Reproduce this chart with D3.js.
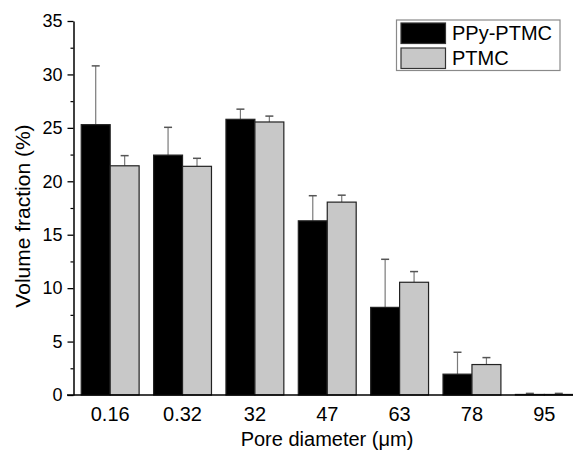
<!DOCTYPE html>
<html>
<head>
<meta charset="utf-8">
<script src="https://cdn.jsdelivr.net/npm/d3@7"></script>
<style>
  html, body { margin: 0; padding: 0; background: #fff; }
  svg { display: block; font-family: "Liberation Sans", Arial, Helvetica, sans-serif; }
</style>
</head>
<body>
<svg id="chart" width="573" height="451"></svg>
<script>
// Pore size distribution of the two scaffolds
const categories = ["0.16", "0.32", "32", "47", "63", "78", "95"];
const seriesNames = ["PPy-PTMC", "PTMC"];
const ppyPtmc = [25.3, 22.45, 25.8, 16.3, 8.2, 1.95, 0.05];
const ppyPtmcErr = [5.5, 2.6, 0.95, 2.35, 4.5, 2.05, 0.1];
const ptmc = [21.45, 21.4, 25.55, 18.05, 10.55, 2.85, 0.05];
const ptmcErr = [0.95, 0.75, 0.55, 0.65, 1.0, 0.65, 0.1];
const yTicks = [0, 5, 10, 15, 20, 25, 30, 35];
const yMinorTicks = [2.5, 7.5, 12.5, 17.5, 22.5, 27.5, 32.5];

const fills = { "PPy-PTMC": "#000000", "PTMC": "#c8c8c8" };

const svg = d3.select("#chart");

const y = d3.scaleLinear().domain([0, 35]).range([395, 21]);
const x0 = d3.scaleBand().domain(categories).range([74, 580.5])
  .paddingInner(0.2).paddingOuter(0.1);
const x1 = d3.scaleBand().domain(seriesNames).range([0, x0.bandwidth()]);

const rows = categories.map((c, i) => ({
  cat: c,
  items: [
    { s: "PPy-PTMC", v: ppyPtmc[i], e: ppyPtmcErr[i] },
    { s: "PTMC", v: ptmc[i], e: ptmcErr[i] }
  ]
}));

// error bars (drawn first so the bar outline sits on top)
const gErr = svg.append("g");
rows.forEach(r => {
  r.items.forEach(d => {
    const cx = x0(r.cat) + x1(d.s) + x1.bandwidth() / 2;
    gErr.append("line")
      .attr("x1", cx).attr("x2", cx)
      .attr("y1", y(d.v)).attr("y2", y(d.v + d.e))
      .attr("stroke", "#7a7a7a").attr("stroke-width", 1.2);
    gErr.append("line")
      .attr("x1", cx - 4).attr("x2", cx + 4)
      .attr("y1", y(d.v + d.e)).attr("y2", y(d.v + d.e))
      .attr("stroke", "#555").attr("stroke-width", 1.5);
  });
});

// bars
const gBars = svg.append("g");
rows.forEach(r => {
  gBars.selectAll(null)
    .data(r.items)
    .join("rect")
    .attr("x", d => x0(r.cat) + x1(d.s))
    .attr("y", d => y(d.v))
    .attr("width", x1.bandwidth())
    .attr("height", d => y(0) - y(d.v))
    .attr("fill", d => fills[d.s])
    .attr("stroke", "#222")
    .attr("stroke-width", 1.2);
});

// y axis with major and minor ticks
const yAxis = svg.append("g")
  .attr("transform", "translate(73.5,0)")
  .call(d3.axisLeft(y).tickValues(yTicks).tickSize(6).tickPadding(5).tickSizeOuter(0));
yAxis.select(".domain").attr("stroke", "#000").attr("stroke-width", 1.5);
yAxis.selectAll(".tick line").attr("stroke", "#000").attr("stroke-width", 1.3);
yAxis.selectAll(".tick text").attr("font-size", 18).attr("fill", "#000")
  .attr("font-family", "'Liberation Sans', Arial, sans-serif");
svg.append("g")
  .attr("transform", "translate(73.5,0)")
  .call(d3.axisLeft(y).tickValues(yMinorTicks).tickSize(3).tickFormat(""))
  .call(g => g.select(".domain").remove())
  .selectAll(".tick line").attr("stroke", "#000").attr("stroke-width", 1.2);

// x axis: baseline and category labels, no tick marks
svg.append("line")
  .attr("x1", 67).attr("x2", 573)
  .attr("y1", y(0)).attr("y2", y(0))
  .attr("stroke", "#000").attr("stroke-width", 1.5);
const xAxis = svg.append("g")
  .attr("transform", `translate(0,${y(0)})`)
  .call(d3.axisBottom(x0).tickSize(0).tickPadding(12));
xAxis.select(".domain").remove();
xAxis.selectAll(".tick text").attr("font-size", 20).attr("fill", "#000")
  .attr("font-family", "'Liberation Sans', Arial, sans-serif");

// axis titles
svg.append("text")
  .attr("x", 327).attr("y", 446)
  .attr("text-anchor", "middle")
  .attr("font-size", 20)
  .text("Pore diameter (μm)");
svg.append("text")
  .attr("transform", "translate(30,216) rotate(-90)")
  .attr("text-anchor", "middle")
  .attr("font-size", 21)
  .text("Volume fraction (%)");

// legend
const legend = svg.append("g");
legend.append("rect")
  .attr("x", 396.5).attr("y", 20).attr("width", 163.5).attr("height", 50.5)
  .attr("fill", "#fff").attr("stroke", "#8a8a8a").attr("stroke-width", 1.2);
seriesNames.forEach((s, i) => {
  legend.append("rect")
    .attr("x", 401).attr("y", 23 + i * 25).attr("width", 44.5).attr("height", 20.5)
    .attr("fill", fills[s]).attr("stroke", "#333").attr("stroke-width", 1.2);
  legend.append("text")
    .attr("x", 452).attr("y", 39.5 + i * 25.5)
    .attr("font-size", 20)
    .text(s);
});
</script>
</body>
</html>
